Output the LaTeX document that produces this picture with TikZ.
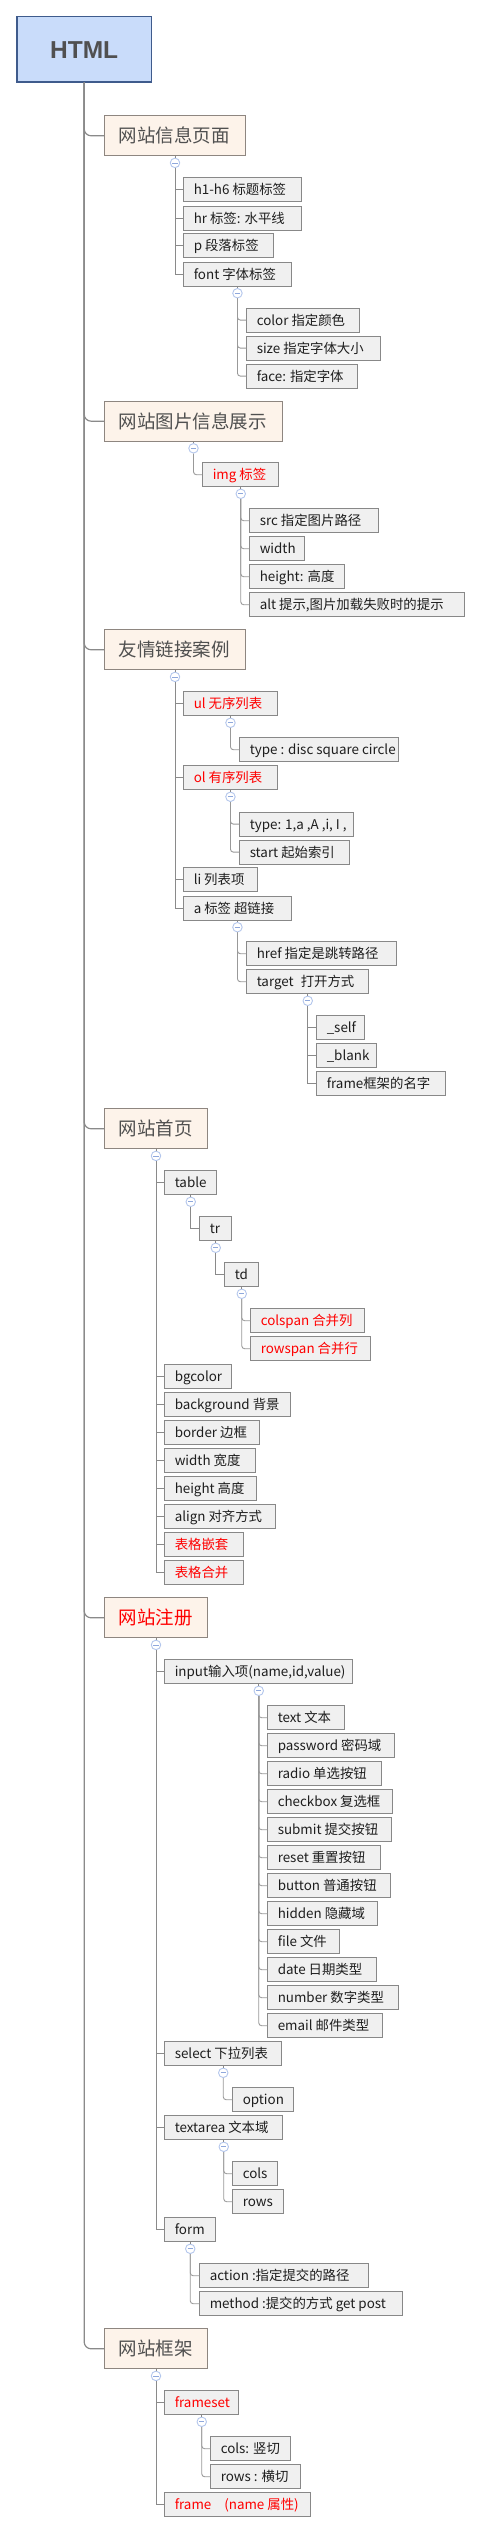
\documentclass[tikz,border=0pt]{standalone}
\usepackage{fontspec}
\setmainfont{Noto Sans CJK SC}
\newfontfamily\rootfont{Liberation Sans}
\definecolor{rootfill}{HTML}{C9DCFA}
\definecolor{rootline}{HTML}{3F5B8C}
\definecolor{catfill}{HTML}{FDF3EA}
\definecolor{catline}{HTML}{8E8680}
\definecolor{cattext}{HTML}{505050}
\definecolor{leaffill}{HTML}{F0F0F0}
\definecolor{leafline}{HTML}{888888}
\definecolor{leaftext}{HTML}{1E1E1E}
\definecolor{hottext}{HTML}{FF0000}
\definecolor{linecol}{HTML}{8A8A8A}
\definecolor{twigcol}{HTML}{999999}
\definecolor{collline}{HTML}{B3C6EC}
\definecolor{collminus}{HTML}{8FA8DC}
\tikzset{
  rootbox/.style={draw=rootline, fill=rootfill, line width=1.3pt, anchor=north west,
    minimum width=134.4pt, minimum height=65.3pt, inner sep=0pt,
    text height=18pt, text depth=0.5pt, text=cattext,
    font=\rootfont\bfseries\fontsize{24.5}{26}\selectfont},
  cat/.style={draw=catline, fill=catfill, line width=1pt, anchor=north west,
    minimum height=40pt, inner xsep=14pt, inner ysep=0pt,
    text height=16pt, text depth=2pt, text=cattext,
    font=\fontsize{18.5}{20}\selectfont},
  leaf/.style={draw=leafline, fill=leaffill, line width=0.9pt, anchor=north west,
    minimum height=24pt, inner xsep=10pt, inner ysep=0pt,
    text height=12pt, text depth=2pt, text=leaftext,
    font=\fontsize{13.4}{15}\selectfont},
  hot/.style={text=hottext},
  collapse/.style={circle, draw=collline, fill=white, line width=0.9pt,
    minimum size=9.5pt, inner sep=0pt,
    path picture={\draw[collminus, line width=0.8pt]
      ([xshift=-2.6pt]path picture bounding box.center) --
      ([xshift=2.6pt]path picture bounding box.center);}},
  trunk/.style={draw=linecol, line width=1.2pt, rounded corners=7pt},
  branch/.style={draw=linecol, line width=0.9pt},
  twig/.style={draw=twigcol, line width=0.9pt, rounded corners=3pt},
}
% #1 extra style, #2 name, #3 x, #4 y top, #5 right x, #6 text
\newcommand\leafbox[6][]{\node[leaf,#1] (#2) at (#3,#4)
  {\makebox[\dimexpr#5pt-#3pt-20pt\relax][l]{#6}};}
\newcommand\catbox[6][]{\node[cat,#1] (#2) at (#3,#4)
  {\makebox[\dimexpr#5pt-#3pt-28pt\relax][l]{#6}};}
\newcommand\coll[2]{\node[collapse] (#1) at ([yshift=-6.6pt]#2.south) {};
  \draw[branch] (#2.south) -- (#1.north);}
\newcommand\kids[3]{\foreach \k in {#3}{\draw[#1] (#2.south) |- (\k.west);}}

\begin{document}
\begin{tikzpicture}[x=1pt,y=-1pt]
\useasboundingbox (0,0) rectangle (481,2533);
\fill[white] (0,0) rectangle (481,2533);

\node[rootbox] (root) at (16.3,16) {HTML};

% categories
\catbox{cat1}{104.3}{115.3}{244.7}{网站信息页面}
\catbox{cat2}{104.3}{400.7}{281.7}{网站图片信息展示}
\catbox{cat3}{104.3}{629.3}{244.7}{友情链接案例}
\catbox{cat4}{104.3}{1108.3}{206.7}{网站首页}
\catbox[hot]{cat5}{104.3}{1597.3}{206.7}{网站注册}
\catbox{cat6}{104.3}{2328.3}{206.7}{网站框架}
\foreach \c in {cat1,cat2,cat3,cat4,cat5,cat6}{\draw[trunk] (root.south) |- (\c.west);}

% ---------- 网站信息页面
\leafbox{h1}{183.3}{177.3}{300.7}{h1-h6 标题标签}
\leafbox{hr}{183.3}{205.7}{300.7}{hr 标签: 水平线}
\leafbox{p}{183.3}{233.3}{273.3}{p 段落标签}
\leafbox{font}{183.3}{261.7}{290.7}{font 字体标签}
\coll{c1}{cat1}
\kids{branch}{c1}{h1,hr,p,font}
\leafbox{color}{246.3}{307.7}{359.3}{color 指定颜色}
\leafbox{size}{246.3}{335.7}{380.3}{size 指定字体大小}
\leafbox{face}{246.3}{363.7}{357.3}{face: 指定字体}
\coll{cfont}{font}
\kids{twig}{cfont}{color,size,face}

% ---------- 网站图片信息展示
\leafbox[hot]{img}{202.3}{462.3}{278.3}{img 标签}
\coll{c2}{cat2}
\kids{twig}{c2}{img}
\leafbox{src}{249.3}{508.3}{377.7}{src 指定图片路径}
\leafbox{iwidth}{249.3}{536.3}{304.3}{width}
\leafbox{iheight}{249.3}{564.3}{344.3}{height: 高度}
\leafbox{alt}{249.3}{592.3}{464.3}{alt 提示,图片加载失败时的提示}
\coll{cimg}{img}
\kids{twig}{cimg}{src,iwidth,iheight,alt}

% ---------- 友情链接案例
\leafbox[hot]{ul}{183.3}{691.3}{276.7}{ul 无序列表}
\leafbox[hot]{ol}{183.3}{765.3}{276.7}{ol 有序列表}
\leafbox{li}{183.3}{867.3}{257.3}{li 列表项}
\leafbox{a}{183.3}{895.7}{290.7}{a 标签 超链接}
\coll{c3}{cat3}
\kids{branch}{c3}{ul,ol,li,a}
\leafbox{ultype}{239.3}{737.3}{397.7}{type : disc square circle}
\coll{cul}{ul}
\kids{twig}{cul}{ultype}
\leafbox{oltype}{239.3}{811.7}{353.3}{type: 1,a ,A ,i, I ,}
\leafbox{olstart}{239.3}{839.7}{349.3}{start 起始索引}
\coll{col}{ol}
\kids{twig}{col}{oltype,olstart}
\leafbox{href}{246.3}{941.3}{396.3}{href 指定是跳转路径}
\leafbox{target}{246.3}{969.3}{368.3}{target\hspace{7pt}打开方式}
\coll{ca}{a}
\kids{twig}{ca}{href,target}
\leafbox{self}{316.3}{1015.3}{364.3}{\_self}
\leafbox{blank}{316.3}{1043.3}{376.3}{\_blank}
\leafbox{fname}{316.3}{1071.3}{445.3}{frame框架的名字}
\coll{ctarget}{target}
\kids{branch}{ctarget}{self,blank,fname}

% ---------- 网站首页
\leafbox{table}{164.3}{1170.3}{216.3}{table}
\leafbox{bgcolor}{164.3}{1364.3}{231.3}{bgcolor}
\leafbox{background}{164.3}{1392.3}{290.3}{background 背景}
\leafbox{border}{164.3}{1420.3}{259.3}{border 边框}
\leafbox{twidth}{164.3}{1448.3}{255.3}{width 宽度}
\leafbox{theight}{164.3}{1476.3}{256.3}{height 高度}
\leafbox{align}{164.3}{1504.3}{275.3}{align 对齐方式}
\leafbox[hot]{nest}{164.3}{1532.3}{243.3}{表格嵌套}
\leafbox[hot]{merge}{164.3}{1560.3}{243.3}{表格合并}
\coll{c4}{cat4}
\kids{branch}{c4}{table,bgcolor,background,border,twidth,theight,align,nest,merge}
\leafbox{tr}{199.3}{1216.3}{231.3}{tr}
\coll{ctable}{table}
\kids{branch}{ctable}{tr}
\leafbox{td}{224.3}{1262.3}{258.3}{td}
\coll{ctr}{tr}
\kids{branch}{ctr}{td}
\leafbox[hot]{colspan}{250.3}{1308.3}{364.3}{colspan 合并列}
\leafbox[hot]{rowspan}{250.3}{1336.3}{370.3}{rowspan 合并行}
\coll{ctd}{td}
\kids{twig}{ctd}{colspan,rowspan}

% ---------- 网站注册
\leafbox{input}{164.3}{1659.3}{352.3}{input输入项(name,id,value)}
\leafbox{select}{164.3}{2041.3}{281.3}{select 下拉列表}
\leafbox{textarea}{164.3}{2115.3}{282.3}{textarea 文本域}
\leafbox{form}{164.3}{2217.3}{215.3}{form}
\coll{c5}{cat5}
\kids{branch}{c5}{input,select,textarea,form}
\leafbox{itext}{267.3}{1705.3}{344.3}{text 文本}
\leafbox{ipass}{267.3}{1733.3}{394.3}{password 密码域}
\leafbox{iradio}{267.3}{1761.3}{381.3}{radio 单选按钮}
\leafbox{icheck}{267.3}{1789.3}{392.3}{checkbox 复选框}
\leafbox{isubmit}{267.3}{1817.3}{391.3}{submit 提交按钮}
\leafbox{ireset}{267.3}{1845.3}{380.3}{reset 重置按钮}
\leafbox{ibutton}{267.3}{1873.3}{390.3}{button 普通按钮}
\leafbox{ihidden}{267.3}{1901.3}{377.3}{hidden 隐藏域}
\leafbox{ifile}{267.3}{1929.3}{339.3}{file 文件}
\leafbox{idate}{267.3}{1957.3}{376.3}{date 日期类型}
\leafbox{inumber}{267.3}{1985.3}{398.3}{number 数字类型}
\leafbox{iemail}{267.3}{2013.3}{382.3}{email 邮件类型}
\coll{cinput}{input}
\kids{twig}{cinput}{itext,ipass,iradio,icheck,isubmit,ireset,ibutton,ihidden,ifile,idate,inumber,iemail}
\leafbox{option}{232.3}{2087.3}{293.3}{option}
\coll{cselect}{select}
\kids{twig}{cselect}{option}
\leafbox{cols}{232.3}{2161.3}{277.3}{cols}
\leafbox{rows}{232.3}{2189.3}{283.3}{rows}
\coll{ctextarea}{textarea}
\kids{twig}{ctextarea}{cols,rows}
\leafbox{action}{199.3}{2263.3}{368.3}{action :指定提交的路径}
\leafbox{method}{199.3}{2291.3}{402.3}{method :提交的方式 get post}
\coll{cform}{form}
\kids{twig}{cform}{action,method}

% ---------- 网站框架
\leafbox[hot]{frameset}{164.3}{2390.3}{238.3}{frameset}
\leafbox[hot]{frame}{164.3}{2492.3}{310.3}{frame\hspace{13pt}(name 属性)}
\coll{c6}{cat6}
\kids{branch}{c6}{frameset,frame}
\leafbox{fcols}{210.3}{2436.3}{290.3}{cols: 竖切}
\leafbox{frows}{210.3}{2464.3}{300.3}{rows : 横切}
\coll{cframeset}{frameset}
\kids{twig}{cframeset}{fcols,frows}
\end{tikzpicture}
\end{document}
